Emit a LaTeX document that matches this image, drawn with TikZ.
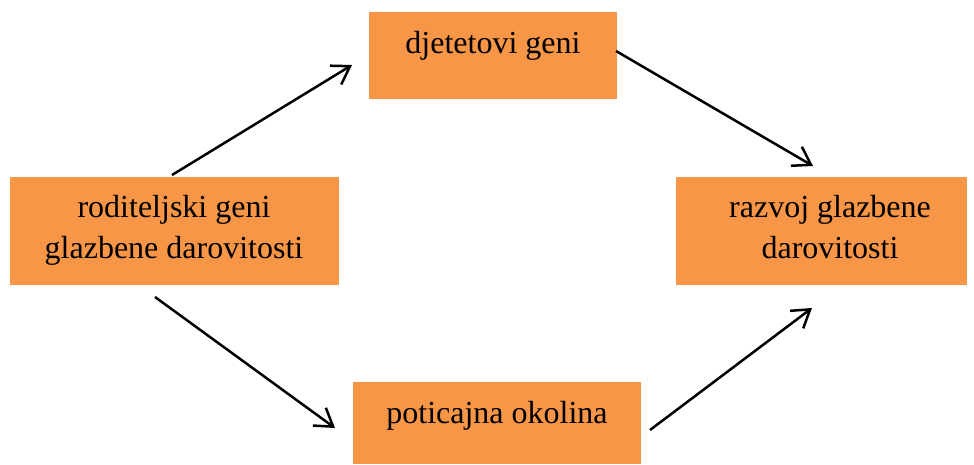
\documentclass[tikz,border=0pt]{standalone}
\usepackage{fontspec}
\setmainfont{Liberation Serif}
\usetikzlibrary{arrows.meta}
\definecolor{boxorange}{HTML}{F79646}
\begin{document}
\begin{tikzpicture}[x=1pt,y=-1pt,
  box/.style={fill=boxorange,draw=none,inner sep=0pt,anchor=north west},
  lbl/.style={font=\fontsize{32}{41}\selectfont,anchor=base,inner sep=0pt},
  conn/.style={line width=2.5pt,-{Straight Barb[length=17pt,width=22pt,line width=2.5pt]}}]
\useasboundingbox (0,0) rectangle (974,464);
% boxes
\node[box,minimum width=248pt,minimum height=87pt] (top) at (369,12) {};
\node[box,minimum width=329pt,minimum height=108pt] (left) at (10,177) {};
\node[box,minimum width=291pt,minimum height=108pt] (right) at (676,177) {};
\node[box,minimum width=288pt,minimum height=82pt] (bottom) at (353,382) {};
% labels
\node[lbl] (ttop) at (493,53) {djetetovi geni};
\node[lbl] (tleft1) at (174,217) {roditeljski geni};
\node[lbl] (tleft2) at (174,258) {glazbene darovitosti};
\node[lbl] (tright1) at (830,217) {razvoj glazbene};
\node[lbl] (tright2) at (830,258) {darovitosti};
\node[lbl] (tbottom) at (497,423) {poticajna okolina};
% connector end points
\coordinate (a1) at (172,175);
\coordinate (a2) at (352,65);
\coordinate (b1) at (616,51);
\coordinate (b2) at (813,166);
\coordinate (c1) at (155,297);
\coordinate (c2) at (335,428);
\coordinate (d1) at (650,430);
\coordinate (d2) at (812,308);
\draw[conn] (a1) -- (a2);
\draw[conn] (b1) -- (b2);
\draw[conn] (c1) -- (c2);
\draw[conn] (d1) -- (d2);
\end{tikzpicture}
\end{document}
